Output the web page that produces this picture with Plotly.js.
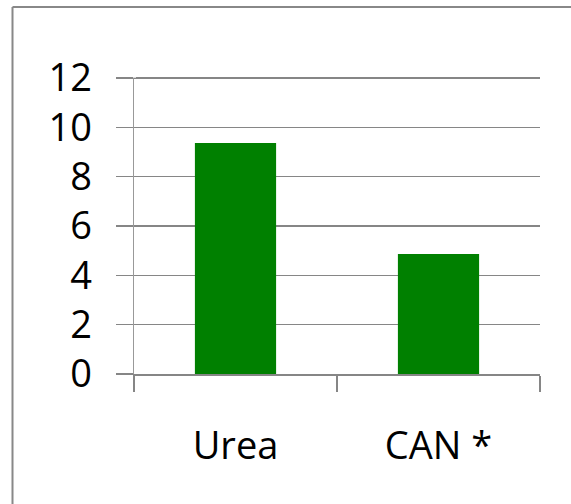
<!DOCTYPE html>
<html>
<head>
<meta charset="utf-8">
<script src="https://cdn.plot.ly/plotly-3.0.1.min.js"></script>
<style>
  html, body { margin: 0; padding: 0; background: #fff; }
  #chart { width: 571px; height: 504px; }
</style>
</head>
<body>
<div id="chart"></div>
<script>
// Fertilizer types and their values
const categories = ['Urea', 'CAN *'];
const values = [9.36, 4.86];
const yTicks = [0, 2, 4, 6, 8, 10, 12];

const W = 571, H = 504;
const margin = { l: 134, r: 31, t: 73, b: 130 };
const pw = W - margin.l - margin.r;
const ph = H - margin.t - margin.b;
// pixel -> paper helpers for the frame lines
const px = x => (x - margin.l) / pw;
const py = y => 1 - (y - margin.t) / ph;

const grey = '#868686';

const trace = {
  type: 'bar',
  x: categories,
  y: values,
  marker: { color: '#008000', line: { width: 0 } },
  hoverinfo: 'skip'
};

const layout = {
  width: W,
  height: H,
  margin: margin,
  paper_bgcolor: '#ffffff',
  plot_bgcolor: '#ffffff',
  showlegend: false,
  bargap: 0.6,
  font: { family: 'Open Sans, sans-serif', size: 38, color: '#000' },
  xaxis: {
    type: 'category',
    tickson: 'boundaries',
    ticks: 'outside',
    ticklen: 16,
    tickwidth: 1.5,
    tickcolor: grey,
    showline: true,
    linecolor: grey,
    linewidth: 1.5,
    showgrid: false,
    ticklabelstandoff: 38,
    tickfont: { size: 38 }
  },
  yaxis: {
    // headroom above 12 so the top gridline is drawn
    range: [0, 12.2],
    tickvals: yTicks,
    ticktext: yTicks.map(String),
    ticks: 'outside',
    ticklen: 17,
    tickwidth: 1.5,
    tickcolor: grey,
    showline: true,
    linecolor: '#999999',
    linewidth: 1.5,
    showgrid: true,
    gridcolor: grey,
    gridwidth: 1.5,
    zeroline: false,
    ticklabelstandoff: 16,
    tickfont: { size: 38 }
  },
  shapes: [
    // y axis line stops at the top gridline
    { type: 'rect', xref: 'paper', yref: 'y',
      x0: px(133), x1: px(136), y0: 12.01, y1: 12.2,
      fillcolor: '#ffffff', line: { width: 0 } },
    // outer frame: left and top edges
    { type: 'line', xref: 'paper', yref: 'paper',
      x0: px(12.5), x1: px(12.5), y0: py(7), y1: py(510),
      line: { color: '#888888', width: 2 } },
    { type: 'line', xref: 'paper', yref: 'paper',
      x0: px(12.5), x1: px(580), y0: py(7), y1: py(7),
      line: { color: '#888888', width: 2 } }
  ]
};

Plotly.newPlot('chart', [trace], layout, { displayModeBar: false, staticPlot: true });
</script>
</body>
</html>
